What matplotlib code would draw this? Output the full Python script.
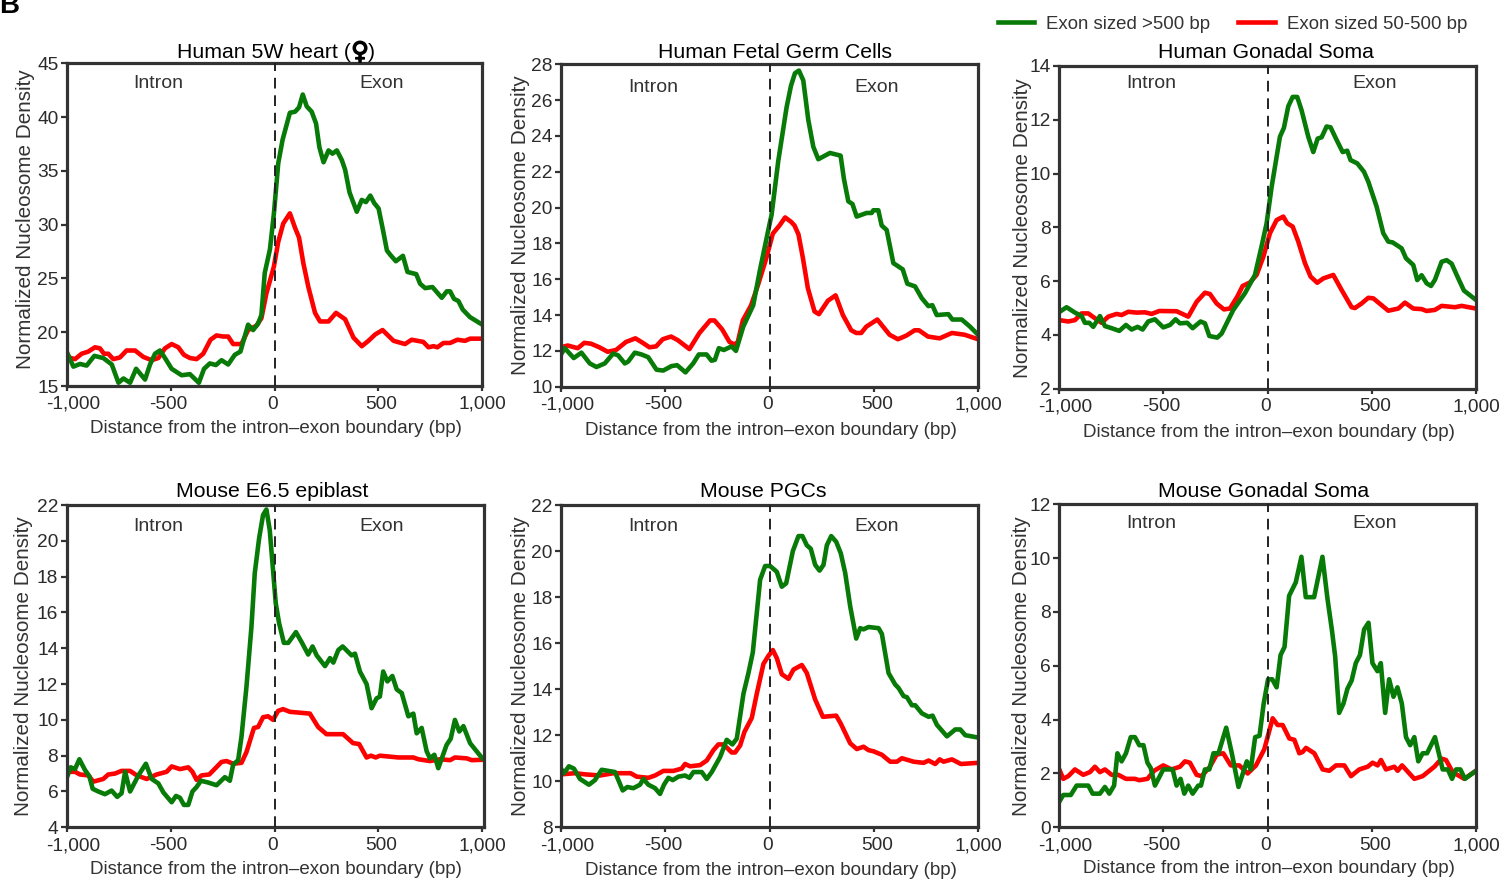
import matplotlib
matplotlib.use('Agg')
import matplotlib.pyplot as plt
import matplotlib.patheffects as pe
import matplotlib.transforms as mtrans
from matplotlib.lines import Line2D

plt.rcParams['font.family'] = ['Liberation Sans', 'DejaVu Sans']

W, H = 1502, 880

# Human 5W heart
heart_green_x = [-1000,-968,-936,-904,-867,-824,-783,-751,-727,-695,-666,-623,-599,-575,-551,-527,-495,-447,-407,-364,-339,-311,-282,-255,-223,-191,-164,-127,-103,-79,-63,-47,-22,-3,18,39,74,99,118,136,155,179,200,216,236,260,279,300,324,340,361,396,420,440,461,480,501,522,541,557,584,618,640,682,701,725,760,805,829,845,864,885,906,941,1000]
heart_green_y = [18.2,16.8,17.05,16.9,17.8,17.6,17,15.3,15.7,15.3,16.6,15.6,17,18,18.3,17.6,16.6,16,16.1,15.3,16.6,17.1,16.95,17.4,17,17.9,18.2,20.7,20.2,20.8,21.6,25.5,27.7,31,35.7,37.9,40.4,40.5,40.9,42.1,41,40.5,39.4,37.2,35.8,36.9,36.6,36.9,36,35.1,33,31.2,32.3,32.1,32.7,32,31.5,29.5,27.6,27.2,26.6,27.1,25.6,25.4,24.5,24.1,24.2,23.2,23.8,23.8,23.1,22.9,22.1,21.4,20.7]
heart_red_x = [-1000,-960,-928,-896,-864,-840,-821,-800,-776,-744,-712,-671,-631,-591,-559,-527,-495,-463,-436,-407,-375,-343,-308,-279,-247,-223,-199,-159,-127,-87,-63,-39,-3,18,42,74,99,118,139,163,195,219,260,296,340,380,420,452,485,520,573,628,660,716,741,765,784,813,845,880,917,941,1000]
heart_red_y = [17.7,17.5,18,18.2,18.6,18.5,18,18,17.5,17.65,18.3,18.3,17.7,17.4,17.6,18.5,18.9,18.6,17.9,17.6,17.5,18,19.3,19.7,19.6,19.6,18.9,18.9,20.2,20.6,21.3,23.6,26.1,28.4,30.1,31.05,29.7,28.8,26.4,24.2,21.8,21,21,21.8,21.2,19.5,18.7,19.2,19.8,20.2,19.2,18.9,19.3,19.1,18.6,18.7,18.6,19,19,19.3,19.2,19.4,19.4]

# Human fetal germ cells
hfgc_green_x = [-1000,-982,-939,-902,-862,-830,-790,-750,-726,-694,-678,-646,-614,-582,-542,-510,-470,-443,-403,-366,-339,-302,-278,-262,-243,-219,-182,-161,-126,-78,-46,-3,10,42,82,103,122,141,162,186,210,234,290,341,357,378,398,418,466,490,498,522,538,562,594,639,661,698,730,762,781,802,858,877,922,962,1000]
hfgc_green_y = [11.8,12.15,11.6,11.9,11.3,11.1,11.3,11.85,11.75,11.3,11.4,11.9,11.8,11.65,10.95,10.9,11.15,11.2,10.8,11.3,11.8,11.8,11.45,11.5,12.15,12.05,12.25,12,13.35,14.55,16.5,18.9,19.6,22.6,25.6,26.8,27.5,27.65,27.1,24.9,23.4,22.7,23.05,22.9,21.6,20.35,20.2,19.5,19.7,19.7,19.85,19.85,19,18.75,16.9,16.55,15.75,15.6,14.95,14.5,14.55,14,14.05,13.75,13.75,13.35,12.9]
hfgc_red_x = [-1000,-968,-920,-888,-856,-816,-776,-736,-688,-643,-608,-576,-544,-512,-472,-440,-384,-336,-285,-264,-227,-192,-168,-152,-128,-88,-56,-16,16,48,75,104,120,139,160,184,216,237,280,317,352,392,416,440,464,517,576,616,656,696,717,760,816,875,936,1000]
hfgc_red_y = [12.2,12.3,12.15,12.45,12.4,12.2,11.95,12.05,12.5,12.7,12.45,12.2,12.25,12.65,12.8,12.6,12.1,13,13.7,13.7,13.2,12.5,12.35,12.5,13.7,14.55,15.65,17.15,18.55,19,19.45,19.2,19,18.5,17.2,15.5,14.2,14.05,14.8,15.1,14,13.15,13,13,13.35,13.75,12.9,12.65,12.85,13.15,13.15,12.8,12.7,13,12.9,12.65]

# Human gonadal soma
hsoma_green_x = [-1000,-965,-925,-893,-877,-856,-837,-805,-781,-749,-712,-680,-653,-624,-600,-573,-541,-501,-469,-442,-421,-386,-360,-322,-301,-280,-242,-221,-165,-109,-61,-29,-5,19,59,78,99,120,142,163,195,219,240,259,283,302,331,360,382,398,430,462,483,523,555,579,600,643,664,699,718,739,763,784,803,835,859,883,915,942,1000]
hsoma_green_y = [4.85,5.03,4.83,4.7,4.45,4.45,4.3,4.7,4.33,4.25,4.15,4.37,4.2,4.3,4.2,4.5,4.58,4.28,4.37,4.58,4.43,4.45,4.25,4.5,4.43,3.96,3.9,4.05,4.93,5.55,6.23,7.3,8.15,9.5,11.37,11.7,12.5,12.85,12.85,12.35,11.37,10.8,11.3,11.35,11.75,11.72,11.25,10.8,10.85,10.5,10.38,10.07,9.7,8.77,7.78,7.47,7.44,7.22,6.85,6.6,6.04,6.22,5.92,5.82,6.05,6.72,6.78,6.65,6.1,5.65,5.3]
hsoma_red_x = [-1000,-957,-925,-893,-861,-829,-797,-765,-725,-701,-669,-629,-589,-557,-520,-437,-381,-341,-301,-277,-245,-210,-181,-146,-120,-85,-53,-21,11,43,75,94,120,147,179,206,238,267,315,355,403,419,451,483,507,579,627,659,699,739,763,803,835,899,931,1000]
hsoma_red_y = [4.55,4.5,4.55,4.8,4.8,4.62,4.45,4.68,4.78,4.74,4.86,4.83,4.84,4.78,4.89,4.88,4.68,5.23,5.57,5.52,5.17,4.95,4.98,5.42,5.82,5.95,6.23,6.9,7.78,8.27,8.4,8.15,8.03,7.47,6.67,6.17,5.94,6.1,6.23,5.67,5.03,5,5.17,5.38,5.36,4.9,4.98,5.2,4.98,4.96,4.89,4.93,5.08,5.03,5.08,4.98]

# Mouse E6.5 epiblast
epi_green_x = [-1000,-981,-960,-939,-912,-891,-875,-848,-816,-784,-757,-736,-719,-695,-655,-619,-591,-559,-535,-495,-474,-455,-436,-415,-395,-375,-354,-319,-279,-239,-215,-199,-175,-159,-135,-111,-95,-74,-55,-39,-23,-7,6,22,45,66,103,130,162,183,203,243,267,283,307,328,371,387,411,443,467,491,507,523,543,567,588,612,644,668,684,708,732,748,769,788,828,848,868,889,909,941,1000]
epi_green_y = [6.75,7.35,7.25,7.8,7.2,6.85,6.15,6,5.85,6.05,5.7,5.9,7.1,6,6.9,7.55,6.7,6.45,5.95,5.4,5.75,5.65,5.25,5.25,6,6.25,6.6,6.5,6.35,6.8,6.6,7.5,7.75,9.05,11.85,15.2,18.2,20.15,21.45,21.75,20.6,18.35,16.5,15.4,14.3,14.3,14.9,14.35,13.65,14.1,13.6,13,13.45,13.2,13.9,14.1,13.6,13.7,12.7,12,10.65,11.2,11.3,12.7,12.15,12.45,11.7,11.5,10.2,10.35,9.25,9.55,8.25,7.85,8.05,7.3,8.6,8.95,10,9.35,9.65,8.7,7.85]
epi_red_x = [-1000,-960,-936,-896,-872,-824,-800,-768,-736,-695,-663,-615,-567,-519,-495,-455,-415,-395,-375,-351,-314,-255,-231,-199,-159,-135,-99,-79,-55,-31,-7,17,41,74,122,170,210,250,330,378,407,443,464,487,507,596,668,692,748,796,845,868,925,949,1000]
epi_red_y = [7.1,7.1,6.95,6.9,6.55,6.7,6.95,7,7.15,7.15,6.9,6.7,6.95,7.1,7.4,7.25,7.35,7.1,6.65,6.9,6.95,7.65,7.7,7.55,7.6,8.2,9.55,9.6,10.15,10.2,10,10.5,10.6,10.45,10.4,10.35,9.6,9.2,9.2,8.7,8.65,7.9,8,7.9,8,7.9,7.9,7.8,7.7,7.8,7.75,7.9,7.85,7.75,7.77]

# Mouse PGCs
pgc_green_x = [-1000,-986,-962,-938,-909,-866,-837,-805,-741,-704,-682,-653,-621,-605,-581,-549,-525,-506,-485,-464,-437,-405,-384,-365,-325,-301,-277,-237,-205,-178,-157,-125,-101,-80,-45,-21,3,35,59,80,112,139,158,179,198,219,240,259,275,296,320,342,363,387,416,435,451,475,523,539,571,603,619,643,659,683,699,731,763,782,803,851,891,915,939,1000]
pgc_green_y = [10.55,10.35,10.65,10.55,10.1,9.85,10.05,10.5,10.4,9.6,9.75,9.7,9.85,10.1,9.85,9.7,9.45,9.85,10.15,10.05,10.2,10.25,10.15,10.4,10.4,10.1,10.4,11.05,11.8,11.6,11.85,13.8,14.7,15.6,18.75,19.35,19.35,19.1,18.45,18.6,20,20.65,20.65,20.25,20.1,19.4,19.15,19.4,20.25,20.65,20.4,19.9,19.05,17.6,16.2,16.65,16.6,16.7,16.65,16.4,14.7,14.2,14.05,13.7,13.65,13.3,13.3,12.95,12.8,12.85,12.45,11.95,12.25,12.25,12,11.9]
pgc_red_x = [-1000,-933,-885,-813,-749,-666,-637,-581,-549,-509,-461,-421,-405,-381,-333,-301,-269,-245,-221,-181,-165,-141,-120,-85,-61,-29,-5,16,35,59,91,115,155,179,219,256,320,342,387,419,451,475,499,539,579,611,635,691,739,763,795,816,835,875,918,1000]
pgc_red_y = [10.3,10.35,10.3,10.25,10.35,10.35,10.2,10.15,10.25,10.45,10.45,10.55,10.75,10.65,10.7,10.9,11.35,11.6,11.6,11.25,11.25,11.55,12.15,12.75,13.8,15.1,15.45,15.7,15.35,14.65,14.45,14.85,15.05,14.7,13.55,12.8,12.85,12.5,11.65,11.4,11.5,11.35,11.3,11.15,10.85,10.85,11,10.85,10.8,10.9,10.75,10.95,10.85,10.95,10.75,10.8]

# Mouse gonadal soma
msoma_green_x = [-1000,-981,-945,-917,-861,-840,-805,-781,-760,-737,-721,-701,-680,-657,-637,-616,-596,-577,-561,-541,-501,-456,-437,-418,-400,-381,-360,-333,-320,-301,-280,-260,-236,-199,-172,-140,-100,-81,-60,-39,-19,2,22,43,62,81,103,135,162,183,223,263,287,308,324,343,364,383,403,423,443,463,484,503,527,543,564,583,604,623,644,664,684,704,723,744,765,803,840,865,885,904,925,947,1000]
msoma_green_y = [0.95,1.2,1.2,1.55,1.55,1.25,1.25,1.5,1.25,1.55,2.75,2.45,2.75,3.35,3.35,3.05,3.05,2.4,2.2,1.55,2.15,2.15,1.55,1.8,1.25,1.55,1.25,1.55,1.55,2.15,2.15,2.75,2.75,3.7,2.75,1.5,2.45,2.15,3.35,3.4,4.6,5.5,5.5,5.2,6.4,6.7,8.6,9.1,10.05,8.55,8.55,10.05,8.5,7.35,6.35,4.25,4.6,5.15,5.45,6.1,6.4,7.35,7.6,6.1,5.8,6.1,4.25,5.5,4.85,5.2,4.6,3.35,3.05,3.35,2.45,2.75,2.75,3.35,2.15,2.15,1.8,2.15,2.15,1.8,2.1]
msoma_red_x = [-1000,-981,-957,-925,-885,-853,-829,-805,-781,-749,-717,-680,-637,-616,-577,-545,-501,-461,-421,-397,-373,-341,-317,-277,-245,-213,-177,-136,-96,-56,-16,24,48,72,104,128,152,168,184,224,264,296,328,368,400,440,480,504,528,544,568,608,624,645,704,744,768,800,835,856,888,944,1000]
msoma_red_y = [2.15,1.8,1.9,2.15,1.95,2.05,2.25,2.05,2.15,1.95,1.95,1.8,1.8,1.75,1.8,2.1,2.3,2.15,2.25,2.45,2.4,1.95,1.9,2.25,2.7,2.75,2.3,2.3,2,2.3,2.9,4.05,3.8,3.8,3.3,3.25,2.75,2.8,2.95,2.75,2.15,2.1,2.3,2.3,1.9,2.15,2.25,2.4,2.3,2.5,2.15,2.25,2.1,2.3,1.8,1.9,2.05,2.25,2.55,2.5,2.05,1.8,2.1]

titles = [None, 'Human Fetal Germ Cells', 'Human Gonadal Soma',
          'Mouse E6.5 epiblast', 'Mouse PGCs', 'Mouse Gonadal Soma']
green_xs = [heart_green_x, hfgc_green_x, hsoma_green_x, epi_green_x, pgc_green_x, msoma_green_x]
green_ys = [heart_green_y, hfgc_green_y, hsoma_green_y, epi_green_y, pgc_green_y, msoma_green_y]
red_xs = [heart_red_x, hfgc_red_x, hsoma_red_x, epi_red_x, pgc_red_x, msoma_red_x]
red_ys = [heart_red_y, hfgc_red_y, hsoma_red_y, epi_red_y, pgc_red_y, msoma_red_y]
ylims = [(15, 45), (10, 28), (2, 14), (4, 22), (8, 22), (0, 12)]
ysteps = [5, 2, 2, 2, 2, 2]
xticks = [-1000, -500, 0, 500, 1000]
xticklabels = ['-1,000', '-500', '0', '500', '1,000']
xlabel_shift = [6, -2, -2, 3, 0]
xmax = [1000, 1000, 1000, 1008, 1000, 1000]

# layout in reference pixels: left, right, top, bottom
boxes = [(66.7, 482.3, 63.3, 386), (561, 978, 64.3, 386.7), (1059.3, 1476, 66, 388.7),
         (66.7, 484, 505, 827.3), (561, 978, 505, 827.3), (1059.3, 1476, 504.3, 827.3)]
title_pos = [(276, 52), (774.5, 52), (1266, 52), (272, 491), (763, 491), (1264, 491)]
xlab_pos = [(276, 428.5), (771, 430.5), (1269, 432.5), (276, 869.5), (771, 870.5), (1269, 868.5)]
ylab_pos = [(26, 219.5), (521, 225.5), (1022.5, 228), (24, 666.5), (521, 666.5), (1022, 666.5)]
intron_pos = [(158.5, 84), (653, 88), (1151, 84), (158.5, 526), (653, 526), (1151, 524)]
exon_pos = [(382, 84), (877, 88), (1375, 84), (382, 526), (877, 526), (1375, 524)]

GREEN = '#087a08'
RED = '#fe0000'
DARK = '#333333'

fig = plt.figure(figsize=(W / 100, H / 100), dpi=100)


def fx(px):
    return px / W


def fy(py):
    return 1 - py / H


for i in range(6):
    l, r, t, b = boxes[i]
    ax = fig.add_axes([fx(l), fy(b), (r - l) / W, (b - t) / H])
    ax.plot(red_xs[i], red_ys[i], color=RED, lw=3.3, solid_joinstyle='round', zorder=2)
    ax.plot(green_xs[i], green_ys[i], color=GREEN, lw=3.3, solid_joinstyle='round', zorder=2.1)
    ax.axvline(0, color='#222222', lw=1.4, dashes=(5.5, 3.5), zorder=3)
    ax.set_xlim(-1000, xmax[i])
    ax.set_ylim(*ylims[i])
    ax.set_xticks(xticks)
    ax.set_xticklabels(xticklabels)
    ax.set_yticks(range(ylims[i][0], ylims[i][1] + 1, ysteps[i]))
    ax.tick_params(labelsize=13.8, width=1.6, color=DARK, labelcolor='#2b2b2b')
    ax.tick_params(axis='x', length=3.5, pad=3.5)
    ax.tick_params(axis='y', length=4.5, pad=1.5)
    for lab, s in zip(ax.get_xticklabels(), xlabel_shift):
        lab.set_transform(lab.get_transform() + mtrans.ScaledTranslation(s / 100, 0, fig.dpi_scale_trans))
    for sp in ax.spines.values():
        sp.set_linewidth(2.3)
        sp.set_color(DARK)

    if titles[i] is not None:
        fig.text(fx(title_pos[i][0]), fy(title_pos[i][1]), titles[i], fontsize=15.35, color='black',
                 ha='center', va='center')
    fig.text(fx(xlab_pos[i][0]), fy(xlab_pos[i][1]), 'Distance from the intron\u2013exon boundary (bp)',
             fontsize=13.5, color=DARK, ha='center', va='center')
    fig.text(fx(ylab_pos[i][0]), fy(ylab_pos[i][1]), 'Normalized Nucleosome Density',
             fontsize=14.9, color=DARK, rotation=90, ha='center', va='center')
    fig.text(fx(intron_pos[i][0]), fy(intron_pos[i][1]), 'Intron', fontsize=14, color=DARK, ha='center', va='center')
    fig.text(fx(exon_pos[i][0]), fy(exon_pos[i][1]), 'Exon', fontsize=14, color=DARK, ha='center', va='center')

# first title has a heavy female sign, so it goes in three pieces
fig.text(fx(176.7), fy(52), 'Human 5W heart (', fontsize=15.35, color='black', ha='left', va='center')
sign = fig.text(fx(360), fy(52), '\u2640', fontsize=17.5, fontweight='bold', family='DejaVu Sans',
                color='black', ha='center', va='center')
sign.set_path_effects([pe.withStroke(linewidth=1.0, foreground='black')])
fig.text(fx(368), fy(52), ')', fontsize=15.35, color='black', ha='left', va='center')

handles = [Line2D([], [], color=GREEN, lw=3.3), Line2D([], [], color=RED, lw=3.3)]
fig.legend(handles, ['Exon sized >500 bp', 'Exon sized 50-500 bp'], ncol=2, frameon=False,
           fontsize=13.4, labelcolor=DARK, handlelength=1.95, handletextpad=0.65, columnspacing=1.5,
           loc='center right', bbox_to_anchor=(fx(1467), fy(24.5)), borderpad=0, borderaxespad=0)

fig.text(fx(-1), fy(13), 'B', fontsize=20, fontweight='bold', color='black', ha='left', va='baseline')

fig.savefig('out.png', dpi=100)
